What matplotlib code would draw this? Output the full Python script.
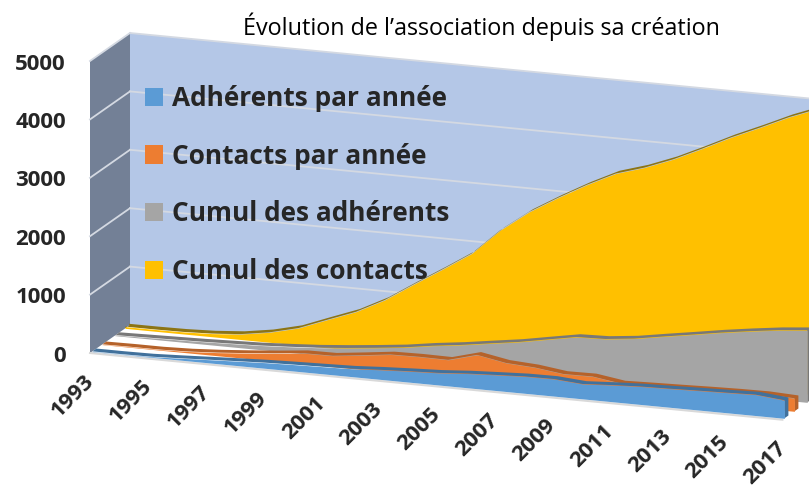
#!/usr/bin/python3
import numpy as np
import matplotlib
matplotlib.use("Agg")
import matplotlib.pyplot as plt
from matplotlib.patches import Patch
from matplotlib.transforms import Affine2D

years = list(range(1993, 2018))
tick_years = list(range(1993, 2018, 2))
tick_values = [0, 1000, 2000, 3000, 4000, 5000]

adherents = [5, 5, 10, 30, 53, 75, 96, 110, 122, 135, 164, 187, 207, 243, 267, 289, 293, 255, 284, 307,
             318, 332, 344, 358, 310]
contacts = [5, 10, 10, 24, 53, 92, 135, 186, 190, 247, 307, 315, 310, 443, 353, 323, 258, 264, 190, 204,
            216, 230, 241, 246, 224]
cumul_adherents = [10, 20, 30, 40, 55, 70, 96, 127, 170, 220, 275, 350, 412, 486, 558, 649, 738, 752, 806, 889,
                   969, 1051, 1123, 1188, 1235]
cumul_contacts = [30, 30, 35, 53, 92, 170, 290, 480, 665, 915, 1230, 1535, 1850, 2300, 2660, 2950, 3220, 3460,
                  3610, 3800, 4030, 4270, 4485, 4710, 4900]

labels = ["Adhérents par année", "Contacts par année", "Cumul des adhérents", "Cumul des contacts"]
colors = ["#5B9BD5", "#ED7D31", "#A5A5A5", "#FFC000"]
dark_colors = ["#41719C", "#B5622A", "#787878", "#8C7414"]
depths = [0.05, 0.30, 0.62, 0.88]

FONT = "Open Sans"
TEXT_COLOR = "#262626"

# scale of the oblique view, in pixels
PX_YEAR = 28.85
PX_YEAR_DROP = 2.78
PX_VALUE = 0.0584
PX_DEPTH_X = 40
PX_DEPTH_Y = 28
THICKNESS = 0.1

fig = plt.figure(figsize=(8.09, 4.87), dpi=100)
ax = fig.add_axes([0, 0, 1, 1])
ax.set_xlim(0, 809)
ax.set_ylim(487, 0)
ax.axis("off")


def chart_at(depth):
    # (year, value) to picture pixels, for a plane at a given depth
    e = 90 - 1993 * PX_YEAR + PX_DEPTH_X * depth
    f = 353 - 1993 * PX_YEAR_DROP - PX_DEPTH_Y * depth
    return Affine2D.from_values(PX_YEAR, PX_YEAR_DROP, 0, -PX_VALUE, e, f) + ax.transData


def draw_series(values, depth, color, dark, z):
    # top and end of the ribbon: same curve moved back by THICKNESS, written in the front plane
    dx = PX_DEPTH_X * THICKNESS / PX_YEAR
    dv = (PX_DEPTH_Y * THICKNESS + PX_YEAR_DROP * dx) / PX_VALUE
    xs = np.array(years, dtype=float)
    vs = np.array(values, dtype=float)
    side_x = np.r_[xs[0], xs, xs[-1], xs[-1] + dx, xs[::-1] + dx, xs[0] + dx]
    side_v = np.r_[0, vs, 0, dv, vs[::-1] + dv, dv]
    ax.fill(side_x, side_v, color=dark, lw=0, transform=chart_at(depth), zorder=z)
    ax.fill_between(years, 0, values, color=color, lw=0, transform=chart_at(depth), zorder=z + 0.5)


# (depth, value) to pixels for the left wall
left_wall = Affine2D.from_values(PX_DEPTH_X, -PX_DEPTH_Y, 0, -PX_VALUE, 90, 353) + ax.transData
back = chart_at(1)
front = chart_at(0)

# walls
ax.fill([1993, 2020, 2020, 1993], [0, 0, 5000, 5000], color="#B4C7E7", lw=0, transform=back, zorder=1)
ax.fill([0, 1, 1, 0], [0, 0, 5000, 5000], color="#738096", lw=0, transform=left_wall, zorder=1)
for v in tick_values[1:]:
    ax.plot([1993, 2020], [v, v], color="#D4D9E2", lw=1.3, transform=back, zorder=2)
    ax.plot([0, 1], [v, v], color="#D4D9E2", lw=1.3, transform=left_wall, zorder=2)
ax.plot([1993, 2017], [0, 0], color="#D9D9D9", lw=1.5, transform=front, zorder=2)

# series, from the back to the front
series = [adherents, contacts, cumul_adherents, cumul_contacts]
for i in [3, 2, 1, 0]:
    draw_series(series[i], depths[i], colors[i], dark_colors[i], 10 + (3 - i) * 2)

# axis labels
for v in tick_values:
    ax.annotate(str(v), xy=(1993, v), xycoords=front, xytext=(-24, -3), textcoords="offset pixels",
                ha="right", va="center", fontsize=16, fontweight="bold", family=FONT,
                color=TEXT_COLOR, zorder=30)
for y in tick_years:
    ax.annotate(str(y), xy=(y, 0), xycoords=front, xytext=(-17, -43), textcoords="offset pixels",
                ha="center", va="center", rotation=45, fontsize=16, fontweight="bold", family=FONT,
                color=TEXT_COLOR, zorder=30, annotation_clip=False)

ax.text(481, 27, "Évolution de l’association depuis sa création", ha="center", va="center",
        fontsize=16.85, family=FONT, color="black", zorder=30)

handles = [Patch(facecolor=c, edgecolor="none", label=l) for c, l in zip(colors, labels)]
leg = ax.legend(handles=handles, loc="upper left", bbox_to_anchor=(145 / 809, 1 - 85 / 487),
                borderaxespad=0, borderpad=0, frameon=False, handlelength=0.69, handleheight=0.69,
                handletextpad=0.35, labelspacing=1.17,
                prop={"family": FONT, "weight": "bold", "size": 18.9})
leg.set_zorder(40)
for t in leg.get_texts():
    t.set_color(TEXT_COLOR)

fig.savefig("out.png", dpi=100)
